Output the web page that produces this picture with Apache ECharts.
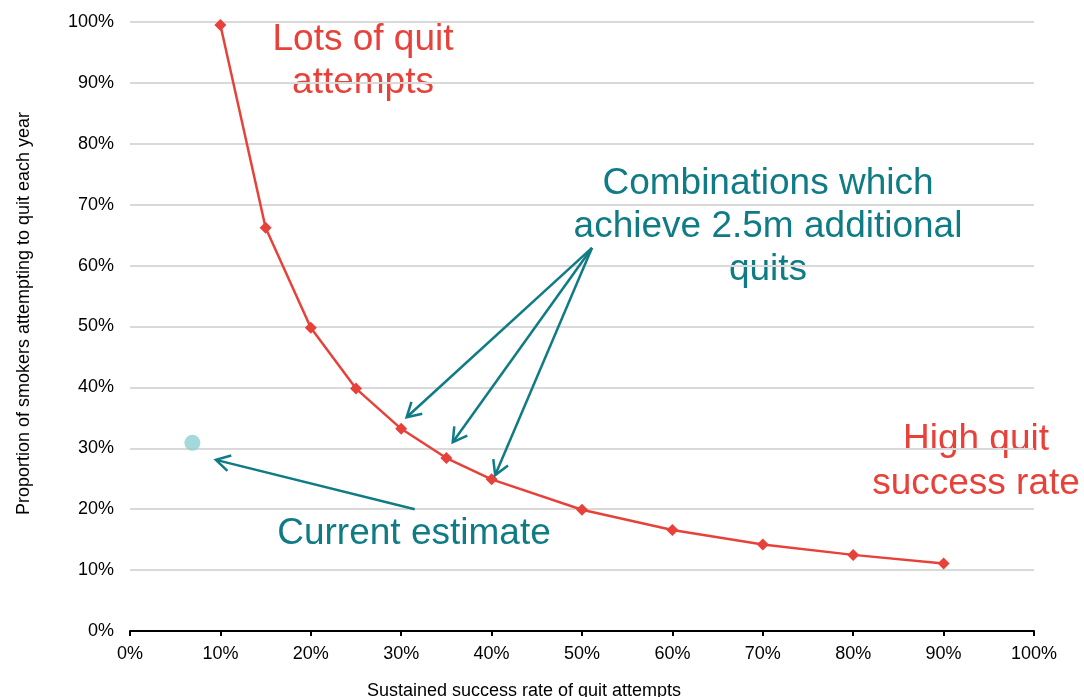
<!DOCTYPE html>
<html>
<head>
<meta charset="utf-8">
<script src="https://cdn.jsdelivr.net/npm/echarts@6/dist/echarts.min.js"></script>
<style>html,body{margin:0;padding:0;background:#fff}#c{width:1084px;height:697px}</style>
</head>
<body>
<div id="c"></div>
<script>
// Data (percent)
const successRate = [10, 15, 20, 25, 30, 35, 40, 50, 60, 70, 80, 90];
const attemptRate = [99.5, 66.2, 49.8, 39.8, 33.2, 28.4, 24.9, 19.9, 16.6, 14.2, 12.5, 11.1];
const currentEstimate = [[6.9, 30.9]];
// Annotation arrows: [fromX, fromY, toX, toY] in data units
const arrows = [
  [51.1, 62.9, 30.6, 35.1],
  [51.1, 62.9, 35.7, 31.0],
  [51.1, 62.9, 40.4, 25.6],
  [31.5, 20.0, 9.5, 28.1]
];

const RED = '#E8413A';
const TEAL = '#0F7B85';
const FONT = '"Liberation Sans", Arial, sans-serif';

const chart = echarts.init(document.getElementById('c'));
chart.setOption({
  animation: false,
  backgroundColor: '#fff',
  grid: {left: 130, right: 50, top: 22, bottom: 66, containLabel: false, outerBoundsMode: 'none'},
  xAxis: {
    type: 'value', min: 0, max: 100, interval: 10,
    name: 'Sustained success rate of quit attempts',
    nameLocation: 'middle', nameGap: 51,
    nameTextStyle: {fontFamily: FONT, fontSize: 18, color: '#000', padding: [0, 116, 0, 0]},
    axisLine: {show: true, lineStyle: {color: '#000', width: 2}},
    axisTick: {show: true, length: 5, lineStyle: {color: '#000', width: 2}},
    axisLabel: {formatter: v => v + '%', fontFamily: FONT, fontSize: 18, color: '#000', margin: 14},
    splitLine: {show: false}
  },
  yAxis: {
    type: 'value', min: 0, max: 100, interval: 10,
    name: 'Proportion of smokers attempting to quit each year',
    nameLocation: 'middle', nameGap: 97,
    nameTextStyle: {fontFamily: FONT, fontSize: 18, color: '#000', padding: [0, 0, 0, 26]},
    axisLine: {show: false},
    axisTick: {show: false},
    axisLabel: {formatter: v => v + '%', fontFamily: FONT, fontSize: 18, color: '#000', margin: 16},
    splitLine: {show: true, lineStyle: {color: '#D9D9D9', width: 2}}
  },
  series: [
    {
      type: 'line',
      data: successRate.map((x, i) => [x, attemptRate[i]]),
      lineStyle: {color: RED, width: 2.5},
      itemStyle: {color: RED},
      symbol: 'diamond', symbolSize: 12,
      z: 3
    },
    {
      type: 'scatter',
      data: currentEstimate,
      symbol: 'circle', symbolSize: 16,
      itemStyle: {color: '#8DD0D2'},
      z: 3
    },
    {
      type: 'custom',
      data: arrows,
      z: 4,
      renderItem: function (params, api) {
        const p1 = api.coord([api.value(0), api.value(1)]);
        const p2 = api.coord([api.value(2), api.value(3)]);
        const ang = Math.atan2(p2[1] - p1[1], p2[0] - p1[0]);
        const L = 16, a = Math.PI / 6;
        const h1 = [p2[0] - L * Math.cos(ang - a), p2[1] - L * Math.sin(ang - a)];
        const h2 = [p2[0] - L * Math.cos(ang + a), p2[1] - L * Math.sin(ang + a)];
        const st = {stroke: TEAL, lineWidth: 2.5, fill: null};
        return {type: 'group', children: [
          {type: 'line', shape: {x1: p1[0], y1: p1[1], x2: p2[0], y2: p2[1]}, style: st},
          {type: 'polyline', shape: {points: [h1, p2, h2]}, style: st}
        ]};
      }
    }
  ],
  graphic: [
    {type: 'text', x: 363, y: 61.5, style: {text: 'Lots of quit\nattempts', fill: RED, font: '37px ' + FONT, align: 'center', verticalAlign: 'middle', lineHeight: 43}},
    {type: 'text', x: 768, y: 227, style: {text: 'Combinations which\nachieve 2.5m additional\nquits', fill: TEAL, font: '37px ' + FONT, align: 'center', verticalAlign: 'middle', lineHeight: 43}},
    {type: 'text', x: 976, y: 462, style: {text: 'High quit\nsuccess rate', fill: RED, font: '37px ' + FONT, align: 'center', verticalAlign: 'middle', lineHeight: 44}},
    {type: 'text', x: 414, y: 534, style: {text: 'Current estimate', fill: TEAL, font: '37px ' + FONT, align: 'center', verticalAlign: 'middle'}}
  ]
});
</script>
</body>
</html>
